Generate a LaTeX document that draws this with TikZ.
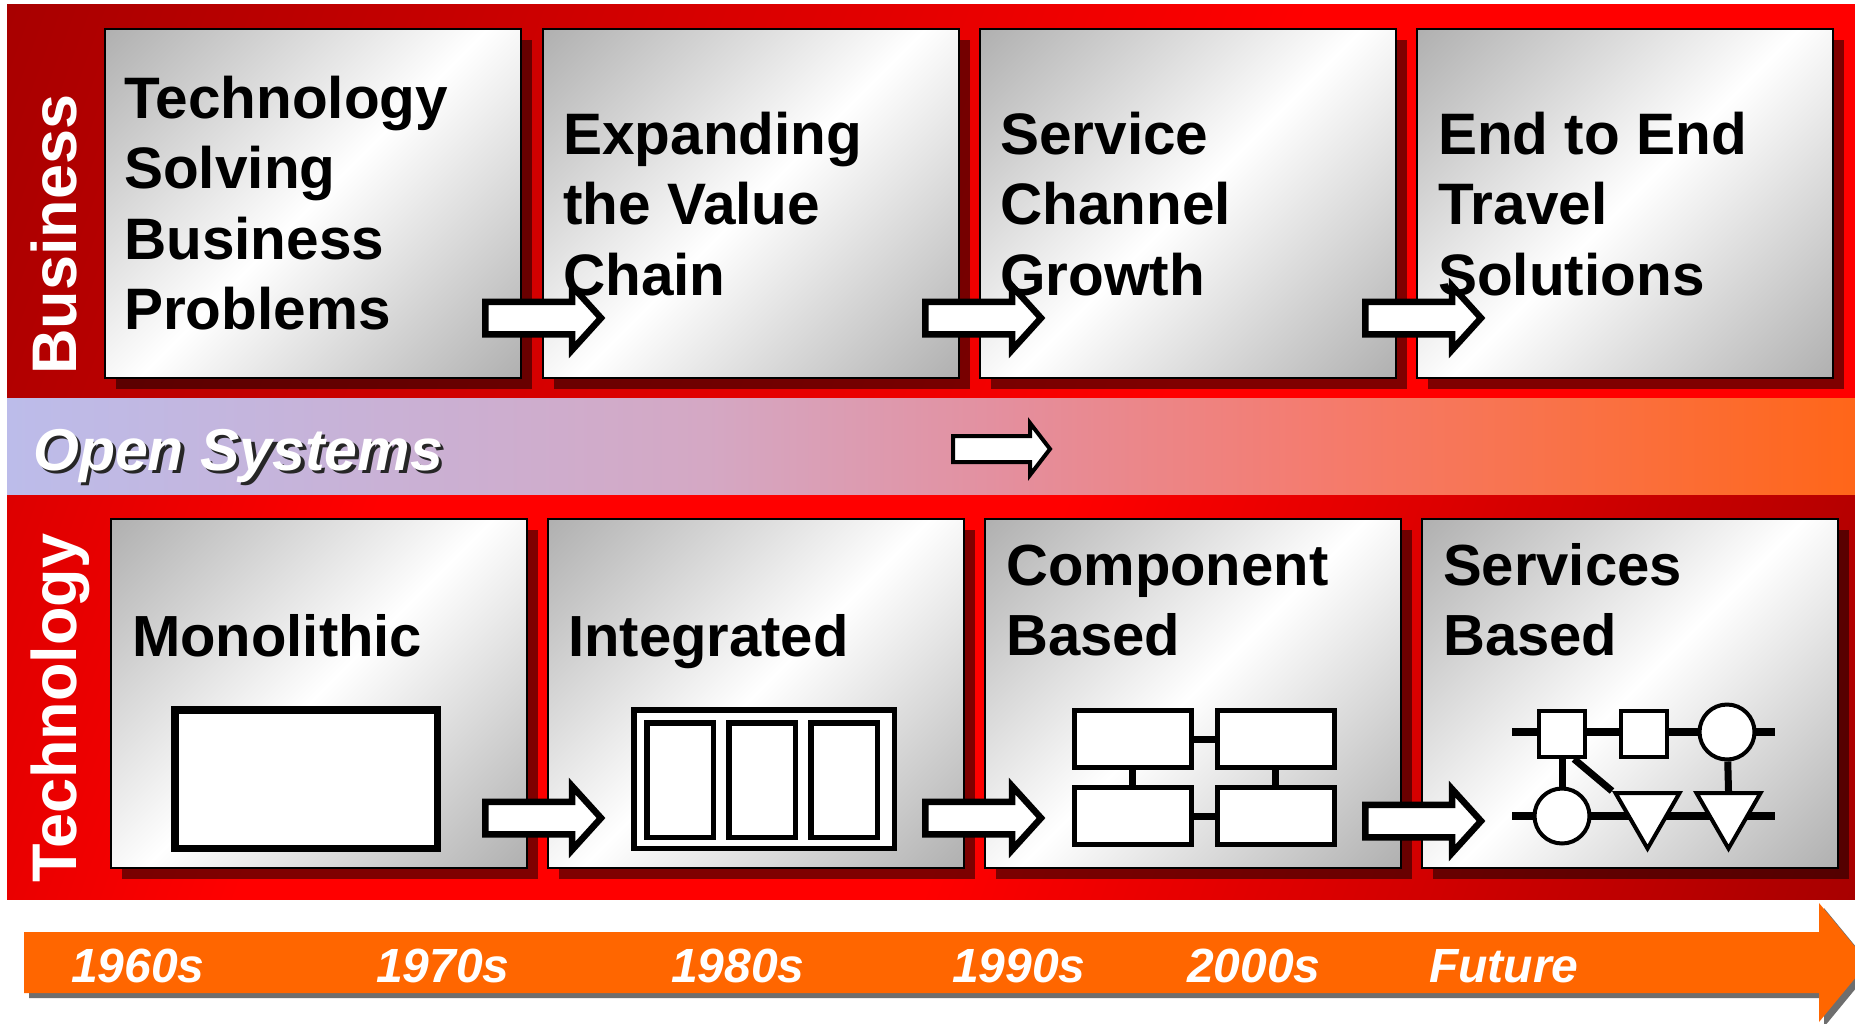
\documentclass[tikz,border=0pt]{standalone}
\usepackage{fontspec}
\setmainfont{Liberation Sans}
\usetikzlibrary{shapes.geometric,shadows}
\definecolor{boxgray}{RGB}{176,176,176}
\definecolor{bzA}{RGB}{168,0,0}
\definecolor{bzB}{RGB}{204,0,0}
\definecolor{redF}{RGB}{255,0,0}
\definecolor{tcA}{RGB}{221,0,0}
\definecolor{tcB}{RGB}{204,0,0}
\definecolor{tcC}{RGB}{168,0,0}
\definecolor{opA}{RGB}{188,188,234}
\definecolor{opB}{RGB}{212,168,196}
\definecolor{opC}{RGB}{228,143,158}
\definecolor{opD}{RGB}{244,124,112}
\definecolor{opE}{RGB}{255,102,25}
\definecolor{tlorange}{RGB}{255,102,0}
\definecolor{tlshadow}{RGB}{110,110,110}
\pgfdeclarehorizontalshading{boxsh}{100bp}{color(0bp)=(boxgray); color(14.6bp)=(boxgray); color(50bp)=(white); color(85.4bp)=(boxgray); color(100bp)=(boxgray)}
\pgfdeclarehorizontalshading{bizsh}{100bp}{color(0bp)=(bzA); color(18bp)=(bzA); color(35bp)=(bzB); color(60bp)=(redF); color(100bp)=(redF)}
\pgfdeclarehorizontalshading{techsh}{100bp}{color(0bp)=(tcA); color(18bp)=(tcA); color(30bp)=(redF); color(52bp)=(redF); color(70bp)=(tcB); color(82bp)=(tcC); color(100bp)=(tcC)}
\pgfdeclarehorizontalshading{opensh}{100bp}{color(0bp)=(opA); color(25bp)=(opA); color(43.9bp)=(opB); color(52bp)=(opC); color(60.2bp)=(opD); color(75bp)=(opE); color(100bp)=(opE)}
\begin{document}
\begin{tikzpicture}[x=1pt,y=-1pt,
  card/.style={draw=black, line width=2pt, shading=boxsh, shading angle=-45,
    minimum width=416pt, minimum height=349pt, inner sep=0pt, anchor=north west,
    general shadow={fill=black, opacity=0.5, shadow xshift=11pt, shadow yshift=-11pt}},
  cardtext/.style={anchor=base west, inner sep=0pt, text=black, font=\bfseries\fontsize{58.5}{70}\selectfont},
  techtext/.style={anchor=base west, inner sep=0pt, text=black, font=\bfseries\fontsize{58}{70}\selectfont},
  sidelabel/.style={rotate=90, anchor=base west, inner sep=0pt, text=white, font=\bfseries\fontsize{63}{63}\selectfont},
  yeartext/.style={anchor=base west, inner sep=0pt, text=white, font=\bfseries\itshape\fontsize{48}{48}\selectfont},
  iconline/.style={draw=black, fill=white, line join=miter},
  compbox/.style={iconline, rectangle, line width=5pt, minimum width=117pt, minimum height=57pt, inner sep=0pt},
  complink/.style={line width=7pt},
  svcbox/.style={iconline, rectangle, line width=4pt, minimum width=46pt, minimum height=46pt, inner sep=0pt},
  svccirc/.style={iconline, circle, line width=4pt, minimum size=55pt, inner sep=0pt},
  svctri/.style={iconline, regular polygon, regular polygon sides=3, shape border rotate=180, line width=4pt, minimum size=74pt, inner sep=0pt},
  svclink/.style={line width=8pt},
  fatarrow/.pic={\draw[line width=6.5pt, fill=white, line join=miter] (3.25,-16.25) -- (90,-16.25) -- (90,-32) -- (119,0) -- (90,32) -- (90,16.25) -- (3.25,16.25) -- cycle;},
  slimarrow/.pic={\draw[line width=4pt, fill=white, line join=miter] (2,-13) -- (79,-13) -- (79,-26) -- (99,0) -- (79,26) -- (79,13) -- (2,13) -- cycle;}
]
\useasboundingbox (0,0) rectangle (1855,1023);
\fill[white] (0,0) rectangle (1855,1023);

% bands
\path[shading=bizsh, shading angle=-20] (7,4) rectangle (1855,398);
\path[shading=opensh] (7,398) rectangle (1855,495);
\path[shading=techsh, shading angle=-20] (7,495) rectangle (1855,899);

% timeline arrow
\fill[tlshadow, shift={(5,5)}] (24,932) -- (1819,932) -- (1819,903) -- (1868,962.5) -- (1819,1022) -- (1819,993) -- (24,993) -- cycle;
\fill[tlorange] (24,932) -- (1819,932) -- (1819,903) -- (1868,962.5) -- (1819,1022) -- (1819,993) -- (24,993) -- cycle;

% cards
\node[card] (bz1) at (104,28) {};
\node[card] (bz2) at (542,28) {};
\node[card] (bz3) at (979,28) {};
\node[card] (bz4) at (1416,28) {};
\node[card] (tc1) at (110,518) {};
\node[card] (tc2) at (547,518) {};
\node[card] (tc3) at (984,518) {};
\node[card] (tc4) at (1421,518) {};

% monolithic icon
\draw[line width=7.5pt, fill=white] (174.75,709.75) rectangle (437.25,848.25);

% integrated icon
\draw[line width=5.5pt, fill=white] (633.75,709.75) rectangle (894.25,848.25);
\draw[line width=5.5pt, fill=white] (646.75,722.75) rectangle (713.25,837.25);
\draw[line width=5.5pt, fill=white] (728.75,722.75) rectangle (795.25,837.25);
\draw[line width=5.5pt, fill=white] (810.75,722.75) rectangle (877.25,837.25);

% component icon
\node[compbox] (c1) at (1132.75,739) {};
\node[compbox] (c2) at (1275.5,739) {};
\node[compbox] (c3) at (1132.75,816) {};
\node[compbox] (c4) at (1275.5,816) {};
\draw[complink] (c1) -- (c2);
\draw[complink] (c3) -- (c4);
\draw[complink] (c1) -- (c3);
\draw[complink] (c2) -- (c4);

% services icon
\coordinate (sl1) at (1512,732);
\coordinate (sr1) at (1775,732);
\coordinate (sl2) at (1512,816);
\coordinate (sr2) at (1775,816);
\draw[svclink] (sl1) -- (sr1);
\draw[svclink] (sl2) -- (sr2);
\node[svcbox] (s1) at (1562,734) {};
\node[svcbox] (s2) at (1644,734) {};
\node[svccirc] (s3) at (1727,732) {};
\node[svccirc] (s4) at (1562,816) {};
\node[svctri] (s5) at (1647.5,811.5) {};
\node[svctri] (s6) at (1728.5,811.5) {};
\draw[line width=7pt] (s1) -- (s4);
\draw[line width=7pt] ([xshift=12pt]s1.south) -- (s5.corner 3);
\draw[line width=7pt] (s3) -- (s6.north);

% arrows
\pic at (482,318) {fatarrow};
\pic at (922,318) {fatarrow};
\pic at (1362,318) {fatarrow};
\pic at (482,818) {fatarrow};
\pic at (922,818) {fatarrow};
\pic at (1362,821) {fatarrow};
\pic at (951,449) {slimarrow};

% side labels
\node[sidelabel] (lbiz) at (76,375) {Business};
\node[sidelabel] (ltech) at (76,883) {Technology};

% open systems
\node[anchor=base west, inner sep=0pt, text=black!85, font=\bfseries\itshape\fontsize{59}{59}\selectfont] (openshadow) at (36.5,473.5) {Open Systems};
\node[anchor=base west, inner sep=0pt, text=white, font=\bfseries\itshape\fontsize{59}{59}\selectfont] (open) at (33,470) {Open Systems};

% business texts
\foreach \txt [count=\i] in {Technology,Solving,Business,Problems}
  \node[cardtext] (ta-\i) at (124,{118+70.6*(\i-1)}) {\txt};
\foreach \txt [count=\i] in {Expanding,the Value,Chain}
  \node[cardtext] (tb-\i) at (563,{154+70.5*(\i-1)}) {\txt};
\foreach \txt [count=\i] in {Service,Channel,Growth}
  \node[cardtext] (tcx-\i) at (1000,{154+70.5*(\i-1)}) {\txt};
\foreach \txt [count=\i] in {End to End,Travel,Solutions}
  \node[cardtext] (td-\i) at (1438,{154+70.5*(\i-1)}) {\txt};

% technology texts
\node[techtext] (mono) at (132,656) {Monolithic};
\node[techtext] (integ) at (568,656) {Integrated};
\node[techtext] (comp1) at (1006,585) {Component};
\node[techtext] (comp2) at (1006,655) {Based};
\node[techtext] (serv1) at (1443,585) {Services};
\node[techtext] (serv2) at (1443,655) {Based};

% years
\node[yeartext] (y1) at (71,982) {1960s};
\node[yeartext] (y2) at (376,982) {1970s};
\node[yeartext] (y3) at (671,982) {1980s};
\node[yeartext] (y4) at (952,982) {1990s};
\node[yeartext] (y5) at (1187,982) {2000s};
\node[yeartext] (y6) at (1429,982) {Future};
\end{tikzpicture}
\end{document}
